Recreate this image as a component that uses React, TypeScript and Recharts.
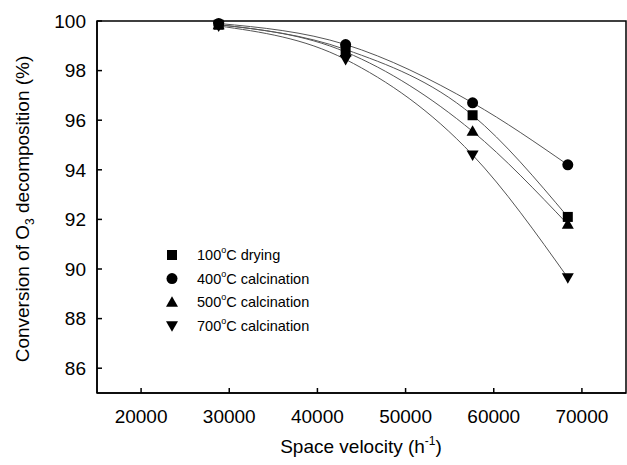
import React from 'react';
import { LineChart, Line, XAxis, YAxis, ReferenceArea } from 'recharts';

const FONT = '"Liberation Sans", Arial, sans-serif';

// space velocity (h-1)
const velocities = [28800, 43200, 57600, 68400];
// conversion of O3 (%)
const drying100 = [99.85, 98.85, 96.2, 92.1];
const calc400 = [99.9, 99.05, 96.7, 94.2];
const calc500 = [99.85, 98.75, 95.55, 91.8];
const calc700 = [99.8, 98.45, 94.6, 89.65];

const xTicks = [20000, 30000, 40000, 50000, 60000, 70000];
const yTicks = [86, 88, 90, 92, 94, 96, 98, 100];

const seriesNames = ['100°C drying', '400°C calcination', '500°C calcination', '700°C calcination'];

const toPoints = (vals: number[]) => velocities.map((v, i) => ({ sv: v, conv: vals[i] }));

const Marker = ({ cx, cy, kind }: { cx: number; cy: number; kind: string }) => {
  if (kind === 'square') return <rect x={cx - 5} y={cy - 5} width={10} height={10} fill="#000" />;
  if (kind === 'circle') return <circle cx={cx} cy={cy} r={5.5} fill="#000" />;
  if (kind === 'up') return <path d={`M${cx},${cy - 6}L${cx + 6},${cy + 4.5}L${cx - 6},${cy + 4.5}Z`} fill="#000" />;
  return <path d={`M${cx},${cy + 6}L${cx + 6},${cy - 4.5}L${cx - 6},${cy - 4.5}Z`} fill="#000" />;
};

const series = [
  { key: 'd100', vals: drying100, kind: 'square' },
  { key: 'c400', vals: calc400, kind: 'circle' },
  { key: 'c500', vals: calc500, kind: 'up' },
  { key: 'c700', vals: calc700, kind: 'down' },
];

const LegendBox = () => (
  <g>
    {series.map((s, i) => {
      const y = 255 + i * 23.6;
      const [pre, post] = seriesNames[i].split('°');
      return (
        <g key={s.key}>
          <Marker cx={172} cy={y} kind={s.kind} />
          <text x={197} y={y + 5} fontFamily={FONT} fontSize={14.5} fill="#000">
            {pre}
            <tspan fontSize={9} dy={-7}>o</tspan>
            <tspan dy={7}>{post}</tspan>
          </text>
        </g>
      );
    })}
  </g>
);

const YLabel = () => (
  <text x={29} y={209} transform="rotate(-90 29 209)" textAnchor="middle" fontFamily={FONT} fontSize={19} fill="#000">
    Conversion of O<tspan fontSize={12} dy={5}>3</tspan>
    <tspan dy={-5}> decomposition (%)</tspan>
  </text>
);

const XLabel = () => (
  <text x={361} y={453} textAnchor="middle" fontFamily={FONT} fontSize={19} fill="#000">
    Space velocity (h<tspan fontSize={12} dy={-8}>-1</tspan>
    <tspan dy={8}>)</tspan>
  </text>
);

export default function App() {
  return (
    <div style={{ position: 'absolute', left: 0, top: 0, background: '#fff' }}>
      <LineChart width={627} height={465} margin={{ top: 21, right: 1, bottom: 0, left: 0 }}>
        <XAxis
          type="number"
          dataKey="sv"
          domain={[15000, 75000]}
          ticks={xTicks}
          allowDuplicatedCategory={false}
          height={72}
          stroke="#000"
          strokeWidth={1.5}
          tickSize={-5}
          tickMargin={22}
          tick={{ fill: '#000', fontSize: 19, fontFamily: FONT }}
        />
        <YAxis
          type="number"
          domain={[85, 100]}
          ticks={yTicks}
          width={97}
          stroke="#000"
          strokeWidth={1.5}
          tickSize={-5}
          tickMargin={16}
          tick={{ fill: '#000', fontSize: 19, fontFamily: FONT }}
        />
        <ReferenceArea x1={15000} x2={75000} y1={85} y2={100} fill="none" stroke="#000" strokeWidth={1.5} />
        {series.map((s) => (
          <Line
            key={s.key}
            data={toPoints(s.vals)}
            dataKey="conv"
            type="monotone"
            stroke="#555"
            strokeWidth={1}
            isAnimationActive={false}
            dot={(p: any) => <Marker key={`${s.key}-${p.index}`} cx={p.cx} cy={p.cy} kind={s.kind} />}
            activeDot={false}
          />
        ))}
        <LegendBox />
        <YLabel />
        <XLabel />
      </LineChart>
    </div>
  );
}
